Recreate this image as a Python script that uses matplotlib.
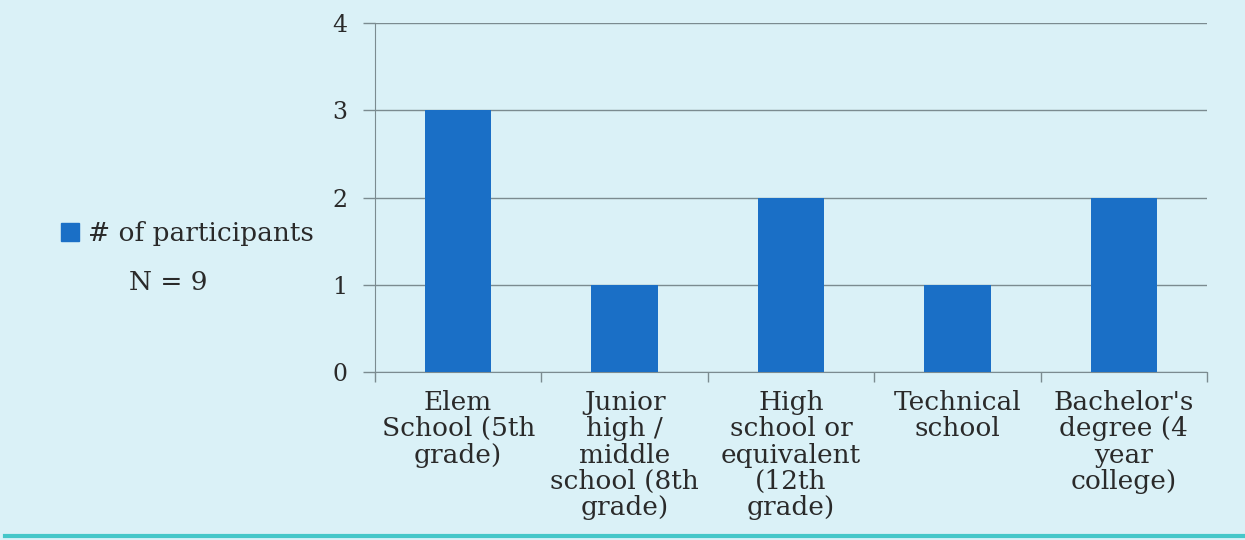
import numpy as np
import matplotlib.pyplot as plt
from matplotlib.lines import Line2D

categories = [
    "Elem\nSchool (5th\ngrade)",
    "Junior\nhigh /\nmiddle\nschool (8th\ngrade)",
    "High\nschool or\nequivalent\n(12th\ngrade)",
    "Technical\nschool",
    "Bachelor's\ndegree (4\nyear\ncollege)",
]
participants = [3, 1, 2, 1, 2]
y_ticks = [0, 1, 2, 3, 4]

bg = "#daf1f7"
bar_color = "#1a6fc6"
line_color = "#7b8b90"

plt.rcParams["font.family"] = ["DejaVu Serif"]

fig = plt.figure(figsize=(12.45, 5.4), dpi=100, facecolor=bg)
ax = fig.add_axes([0.3012, 0.311, 0.6683, 0.646])
ax.set_facecolor(bg)

x = np.arange(len(categories))
ax.bar(x, participants, width=0.4, color=bar_color, zorder=3)

ax.set_xlim(-0.5, len(categories) - 0.5)
ax.set_ylim(0, 4)
ax.set_yticks(y_ticks)
ax.set_yticklabels([str(v) for v in y_ticks], fontsize=17, color="#2a2a2a")
ax.yaxis.grid(True, color=line_color, linewidth=1.0, zorder=0)
ax.tick_params(axis="y", length=9, width=1, color=line_color, pad=11)

# category labels centred, ticks at category boundaries
ax.set_xticks(x)
ax.set_xticklabels(categories, fontsize=19, linespacing=1.06, va="top",
                   color="#2a2a2a")
ax.tick_params(axis="x", length=0, pad=13)
ax.set_xticks(np.arange(-0.5, len(categories)), minor=True)
ax.tick_params(axis="x", which="minor", length=7, width=1, color=line_color)

for side in ["top", "right"]:
    ax.spines[side].set_visible(False)
ax.spines["left"].set_color(line_color)
ax.spines["bottom"].set_color(line_color)

handle = Line2D([], [], marker="s", linestyle="none", markersize=13,
                markerfacecolor=bar_color, markeredgecolor=bar_color)
fig.legend([handle], ["# of participants"], loc="center left",
           bbox_to_anchor=(0.037, 0.568), frameon=False, fontsize=19,
           handletextpad=0.2, handlelength=1.0, borderaxespad=0,
           labelcolor="#2a2a2a")
fig.text(0.135, 0.476, "N = 9", fontsize=19, ha="center", va="center",
         color="#2a2a2a")

fig.add_artist(Line2D([0.004, 1], [0.007, 0.007], color="#45c7c9",
                      linewidth=3, transform=fig.transFigure))

fig.savefig("out.png", dpi=100, facecolor=bg)
